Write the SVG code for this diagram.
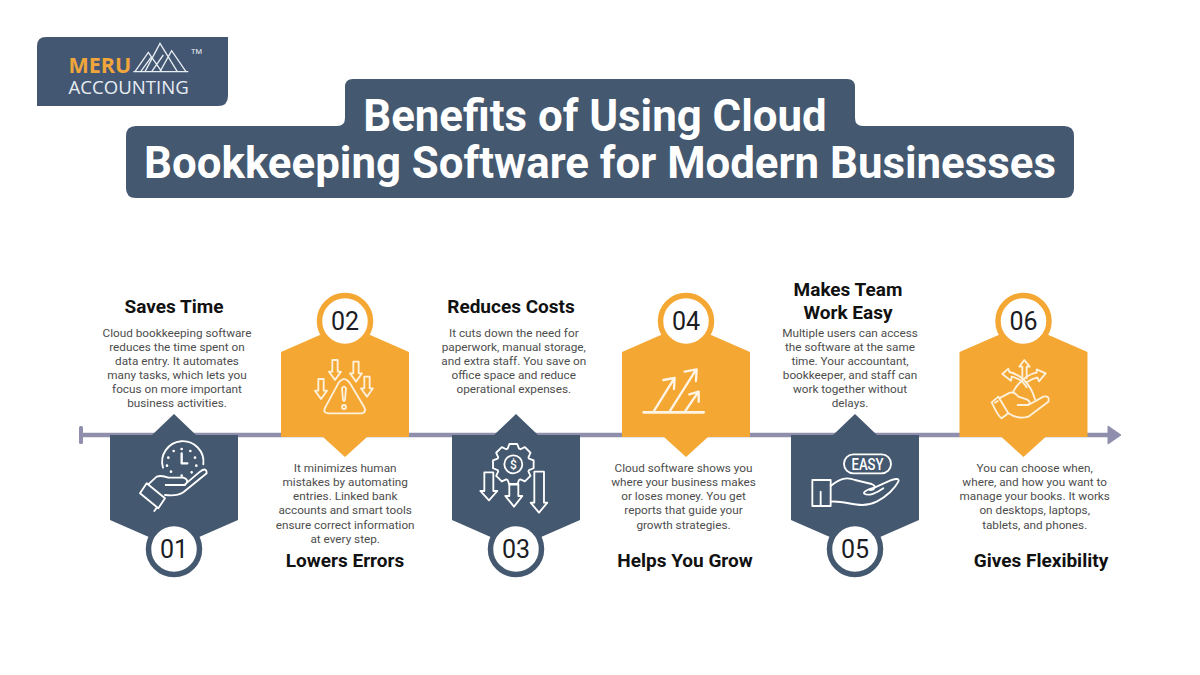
<svg xmlns="http://www.w3.org/2000/svg" xmlns:xlink="http://www.w3.org/1999/xlink" width="1200" height="675" viewBox="0 0 1200 675">
<style>
text{font-family:Roboto,"Liberation Sans",sans-serif}
.h{font-size:19px;font-weight:700;fill:#111;text-anchor:middle}
.b{font-size:11.75px;fill:#4d4d4d;text-anchor:middle}
.n{font-size:25px;fill:#1c1c24;text-anchor:middle}
.t{font-size:43.800px;font-weight:700;fill:#fff;text-anchor:middle}
.navy{fill:#44586f}.org{fill:#f5a733}
.rn{fill:#fff;stroke:#44586f;stroke-width:5.500}
.ro{fill:#fff;stroke:#f5a733;stroke-width:5.500}
.ic{fill:none;stroke:#fff;stroke-width:5.500;stroke-linejoin:round;stroke-linecap:round}
.io{fill:none;stroke:#fdf1dc;stroke-width:5.500;stroke-linejoin:round;stroke-linecap:round}
</style>
<defs>
<path id="dn" d="M-8 0H8V35H18L0 60L-18 35H-8Z"/>
<polygon id="shN" points="-64,0 -22,0 0,-21 22,0 64,0 64,85 0,113 -64,85"/>
<polygon id="shO" points="-64,0 -64,-85 0,-113 64,-85 64,0 22,0 0,20 -22,0"/>
</defs>
<rect width="1200" height="675" fill="#fff"/>

<g id="logo">
<path class="navy" d="M37 46Q37 37 46 37H228V96Q228 106 218 106H37Z" style="fill:#435773"/>
<text x="68.500" y="73" font-size="21.500" font-weight="700" fill="#f0a63a" style="font-family:'Open Sans',sans-serif">MERU</text>
<text x="68.500" y="94" font-size="18.600" fill="#e8edf2" style="font-family:'Open Sans',sans-serif">ACCOUNTING</text>
<g transform="translate(20 20) scale(.3333)" fill="none" stroke="#e8edf2" stroke-width="4">
<path d="M340 155H505M345 155L385 97L425 155M375 155L420 70L472 155M420 155L455 92L498 155M362 155L395 110M395 155L430 105"/>
</g>
<text x="191" y="54" font-size="7.500" fill="#e8edf2">TM</text>
</g>

<g id="title">
<path d="M353 79H847Q855 79 855 87V118Q855 126 863 126H1064Q1074 126 1074 136V188Q1074 198 1064 198H136Q126 198 126 188V136Q126 126 136 126H337Q345 126 345 118V87Q345 79 353 79Z" class="navy"/>
<text class="t" x="595" y="131">Benefits of Using Cloud</text>
<text class="t" x="600" y="178">Bookkeeping Software for Modern Businesses</text>
</g>

<g id="connectors">
<path d="M81.500 435H1110" stroke="#8f8fad" stroke-width="4.500" fill="none"/>
<rect x="79" y="426" width="4" height="18" rx="1.500" fill="#8f8fad"/>
<path d="M1108 426L1121 435L1108 444Z" fill="#8f8fad" stroke="#8f8fad" stroke-linejoin="round"/>
</g>

<g id="node-01">
<use href="#shN" x="174" y="435" class="navy"/>
<circle class="rn" cx="174" cy="549" r="25.500"/>
<text class="n" x="174" y="558">01</text>
<g transform="translate(135 435) scale(.3333)" class="ic">
<path d="M84 98A62 62 0 1 1 205 88"/>
<path d="M140 55V85H157" stroke-width="7"/>
<path d="M140 42v.1M116 48v.1M100 68v.1M96 92v.1M166 48v.1M180 68v.1M184 92v.1M108 110v.1M170 112v.1M140 122v.1" stroke-width="8"/>
<path d="M15 175L35 145L90 190L70 220ZM40 148L65 125Q80 120 100 128H145Q165 135 150 150H92M150 148L195 110Q215 95 215 115L145 172Q125 185 90 180M66 217L58 228"/>
</g>
<text class="h" x="174" y="313">Saves Time</text>
<text class="b" x="177"><tspan x="177" y="336.500">Cloud bookkeeping software</tspan><tspan x="177" y="350.500">reduces the time spent on</tspan><tspan x="177" y="364.500">data entry. It automates</tspan><tspan x="177" y="378.500">many tasks, which lets you</tspan><tspan x="177" y="393">focus on more important</tspan><tspan x="177" y="407">business activities.</tspan></text>
</g>

<g id="node-02">
<use href="#shO" x="345" y="437" class="org"/>
<circle class="ro" cx="345" cy="321" r="25.500"/>
<text class="n" x="345" y="330">02</text>
<g transform="translate(270 285) scale(.3333)" class="io">
<path d="M205 295Q222 270 240 295L282 365Q292 385 270 385H178Q155 385 167 365Z"/>
<path d="M216 310Q222 300 228 310L225 345Q222 350 219 345Z"/>
<circle cx="222" cy="366" r="6"/>
<use href="#dn" x="195" y="225"/><use href="#dn" x="258" y="230"/><use href="#dn" x="153" y="282"/><use href="#dn" x="291" y="275"/>
</g>
<text class="b"><tspan x="345.200" y="472">It minimizes human</tspan><tspan x="345.200" y="486">mistakes by automating</tspan><tspan x="345.200" y="500">entries. Linked bank</tspan><tspan x="345.200" y="514">accounts and smart tools</tspan><tspan x="345.200" y="528.500">ensure correct information</tspan><tspan x="345.200" y="542.500">at every step.</tspan></text>
<text class="h" x="345" y="567">Lowers Errors</text>
</g>

<g id="node-03">
<use href="#shN" x="516" y="435" class="navy"/>
<circle class="rn" cx="516" cy="549" r="25.500"/>
<text class="n" x="516" y="558">03</text>
<g transform="translate(440 420) scale(.3333)" class="ic">
<path transform="translate(220 133)" d="M47-17.100L60.900-11.800L60.900 11.800L47 17.100L45.300 21.100L51.400 34.700L34.700 51.400L21.100 45.300L17.100 47L11.800 60.900L-11.800 60.900L-17.100 47L-21.100 45.300L-34.700 51.400L-51.400 34.700L-45.300 21.100L-47 17.100L-60.900 11.800L-60.900-11.800L-47-17.100L-45.300-21.100L-51.400-34.700L-34.700-51.400L-21.100-45.300L-17.100-47L-11.800-60.900L11.800-60.900L17.100-47L21.100-45.300L34.700-51.400L51.400-34.700L45.300-21.100Z"/>
<circle cx="220" cy="133" r="27"/>
<path d="M133 157H160V213H172L147 241L121 213H133ZM208 192H235V228H247L222 260L196 228H208ZM283 155H312V248H322L297 278L272 248H283Z"/>
</g>
<text x="513.300" y="468.500" font-size="12" font-weight="500" fill="#fff" text-anchor="middle">$</text>
<text class="h" x="511" y="313">Reduces Costs</text>
<text class="b"><tspan x="513.800" y="336.500">It cuts down the need for</tspan><tspan x="513.800" y="350.500">paperwork, manual storage,</tspan><tspan x="513.800" y="364.500">and extra staff. You save on</tspan><tspan x="513.800" y="378.500">office space and reduce</tspan><tspan x="513.800" y="393">operational expenses.</tspan></text>
</g>

<g id="node-04">
<use href="#shO" x="686" y="437" class="org"/>
<circle class="ro" cx="686" cy="321" r="25.500"/>
<text class="n" x="686" y="330">04</text>
<g transform="translate(610 285) scale(.3333)" class="ic" style="stroke:#fff5e6">
<path d="M101 382H281" stroke-width="8"/>
<path d="M132 378L190 285M160 285L194 279L192 312M180 378L256 258M224 260L260 253L258 288M226 378L262 325M238 328L266 320L266 350" stroke-width="7"/>
</g>
<text class="b"><tspan x="683.500" y="472">Cloud software shows you</tspan><tspan x="683.500" y="486">where your business makes</tspan><tspan x="683.500" y="500">or loses money. You get</tspan><tspan x="683.500" y="514">reports that guide your</tspan><tspan x="683.500" y="528.500">growth strategies.</tspan></text>
<text class="h" x="685" y="567">Helps You Grow</text>
</g>

<g id="node-05">
<use href="#shN" x="855" y="435" class="navy"/>
<circle class="rn" cx="855" cy="549" r="25.500"/>
<text class="n" x="855" y="558">05</text>
<g transform="translate(780 410) scale(.3333)" class="ic">
<rect x="192" y="133" width="141" height="57" rx="28"/>
<rect x="97" y="210" width="55" height="78"/>
<path d="M122 245V288M152 228C180 205 200 200 225 210L275 222C290 228 285 240 270 240M152 275C200 270 240 300 290 275C320 260 345 235 355 215C360 205 345 205 330 212L285 232C260 238 245 248 255 252C265 258 290 250 310 235"/>
</g>
<text x="867.500" y="470" font-size="16" font-weight="500" fill="#fff" text-anchor="middle" textLength="32" lengthAdjust="spacingAndGlyphs">EASY</text>
<text class="h"><tspan x="848" y="296">Makes Team</tspan><tspan x="848" y="319">Work Easy</tspan></text>
<text class="b"><tspan x="850" y="336.500">Multiple users can access</tspan><tspan x="850" y="350.500">the software at the same</tspan><tspan x="850" y="364.500">time. Your accountant,</tspan><tspan x="850" y="378.500">bookkeeper, and staff can</tspan><tspan x="850" y="393">work together without</tspan><tspan x="850" y="407">delays.</tspan></text>
</g>

<g id="node-06">
<use href="#shO" x="1023.500" y="437" class="org"/>
<circle class="ro" cx="1023.500" cy="321" r="25.500"/>
<text class="n" x="1023.500" y="330">06</text>
<g transform="translate(985 350) scale(.3333)" class="io">
<path d="M112 95V50H103L118 30L134 50H125V85"/>
<path d="M52 72L70 56L73 66C100 72 135 95 150 148M52 72L78 92L80 80C100 85 115 95 125 112"/>
<path d="M182 70L155 58L155 68C130 72 100 95 85 125M182 70L162 94L157 82C145 85 135 90 125 97"/>
<path d="M20 157L40 140L70 190L50 205Q40 200 20 157ZM42 145L75 128Q90 125 100 140L125 148Q140 155 130 165H98M130 165L175 140Q195 135 190 155L130 200Q100 210 68 188M30 158l8-5"/>
</g>
<text class="b"><tspan x="1034.700" y="472">You can choose when,</tspan><tspan x="1034.700" y="486">where, and how you want to</tspan><tspan x="1034.700" y="500">manage your books. It works</tspan><tspan x="1034.700" y="514">on desktops, laptops,</tspan><tspan x="1034.700" y="528.500">tablets, and phones.</tspan></text>
<text class="h" x="1041" y="567">Gives Flexibility</text>
</g>
</svg>
